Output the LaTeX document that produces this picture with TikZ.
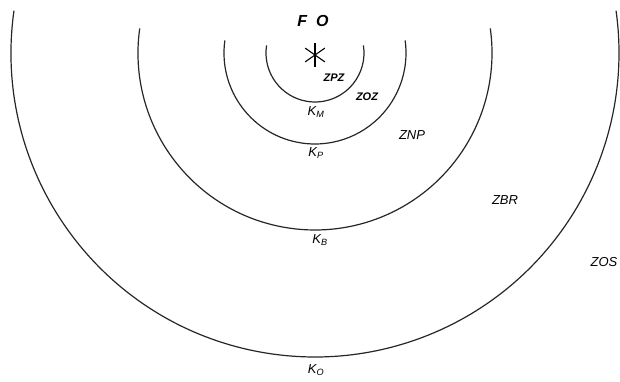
\documentclass[tikz,border=0pt]{standalone}
\usepackage{fontspec}
\setmainfont{Liberation Sans}
\begin{document}
\begin{tikzpicture}[x=1pt,y=1pt,
  ring/.style={line width=1.2pt,black!85},
  zone/.style={font=\fontsize{13}{13}\selectfont\itshape,inner sep=0pt},
  szone/.style={font=\fontsize{11}{11}\selectfont\bfseries\itshape,inner sep=0pt},
  klab/.style={font=\fontsize{13}{13}\selectfont\itshape,inner sep=0pt}]
\useasboundingbox (0,0) rectangle (620,382);
\coordinate (c) at (315,329);
\foreach \r/\a in {49/171,91/172,177/172,304/172}{
  \draw[ring] ([shift={(\a:\r)}]c) arc[start angle=\a,end angle=540-\a,radius=\r];
}
% asterisk
\coordinate (s) at (315,327);
\foreach \ang in {35,90,145}{
  \draw[line width=1.1pt] ([shift={(\ang:12)}]s) -- ([shift={(\ang+180:12)}]s);
}
\node[font=\fontsize{16}{16}\selectfont\bfseries\itshape,inner sep=0pt] (fo) at (313,361) {F\hspace{9pt}O};
\node[szone] (zpz) at (334,304) {ZPZ};
\node[szone] (zoz) at (367,285) {ZOZ};
\node[klab] (km) at (316,270) {K\textsubscript{M}};
\node[klab] (kp) at (316,229) {K\textsubscript{P}};
\node[zone] (znp) at (412,247) {ZNP};
\node[zone] (zbr) at (505,182) {ZBR};
\node[zone] (zos) at (604,120) {ZOS};
\node[klab] (kb) at (320,142) {K\textsubscript{B}};
\node[klab] (ko) at (316,12) {K\textsubscript{O}};
\end{tikzpicture}
\end{document}
